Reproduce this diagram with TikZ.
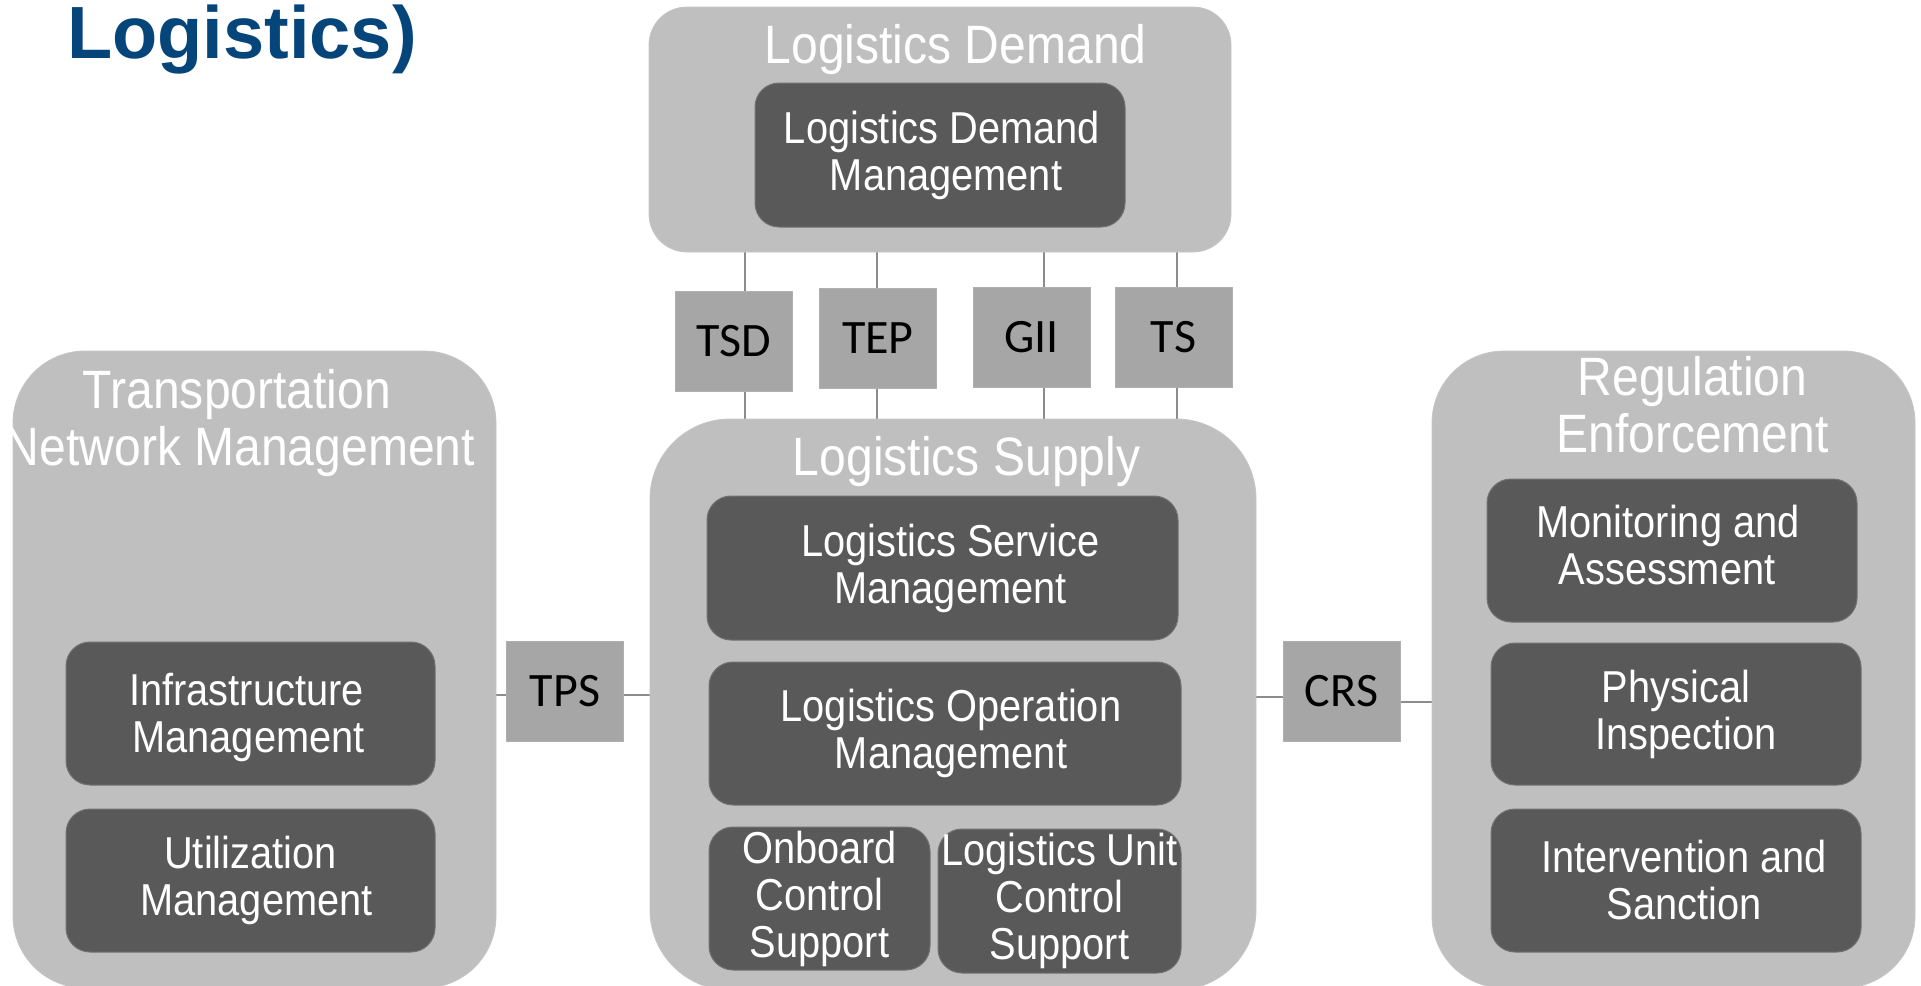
\documentclass[tikz,border=0pt]{standalone}
\usepackage{fontspec}
\setmainfont{Liberation Sans}
\newfontfamily\nsans[FakeStretch=0.89]{Liberation Sans}
\newfontfamily\calib{Carlito}
\usetikzlibrary{backgrounds}
\definecolor{outerfill}{HTML}{BFBFBF}
\definecolor{innerfill}{HTML}{595959}
\definecolor{innerline}{HTML}{727272}
\definecolor{labelfill}{HTML}{A6A6A6}
\definecolor{connline}{HTML}{8C8C8C}
\definecolor{titleblue}{HTML}{05457A}
\tikzset{
  outerbox/.style={rectangle, fill=outerfill, draw=outerfill!90!white, line width=0.8pt, inner sep=0pt, outer sep=0pt},
  innerbox/.style={rectangle, rounded corners=24pt, fill=innerfill, draw=innerline, line width=1pt, inner sep=0pt, outer sep=0pt, text=white, align=center, font=\nsans\fontsize{44.7}{47}\selectfont},
  headtext/.style={inner sep=0pt, outer sep=0pt, text=white, align=center, font=\nsans\fontsize{54}{57}\selectfont},
  labelbox/.style={rectangle, fill=labelfill, draw=labelfill!90!white, line width=0.8pt, inner sep=0pt, outer sep=0pt, minimum width=117pt, minimum height=100pt, text=black, font=\calib\fontsize{48}{50}\selectfont},
  conn/.style={draw=connline, line width=1.2pt}
}
\begin{document}
\begin{tikzpicture}[x=1pt,y=-1pt]
\useasboundingbox (0,0) rectangle (1921,985);
\clip (0,0) rectangle (1921,985);

% title
\node[anchor=base west, inner sep=0pt, text=titleblue, font=\bfseries\fontsize{74}{80}\selectfont] (title) at (67,58) {Logistics)};

% outer boxes
\node[outerbox, rounded corners=38pt, minimum width=582pt, minimum height=245pt] (ldemand) at (940,129.5) {};
\node[outerbox, rounded corners=80pt, minimum width=606pt, minimum height=571pt] (lsupply) at (953,704.5) {};
\node[outerbox, rounded corners=72pt, minimum width=483pt, minimum height=637pt] (tnm) at (254.5,669.5) {};
\node[outerbox, rounded corners=72pt, minimum width=483pt, minimum height=637pt] (reg) at (1673.5,669.5) {};

% headers
\node[headtext, anchor=base] (hdemand) at (955.6,63.7) {Logistics Demand};
\node[headtext, anchor=base] (hsupply) at (966.6,475.3) {Logistics Supply};
\node[headtext, anchor=north] (htnm) at (237,369.5) {Transportation\\\hspace*{6pt}Network Management};
\node[headtext, anchor=north] (hreg) at (1692.5,356) {Regulation\\Enforcement};

% inner boxes
\node[innerbox, minimum width=370pt, minimum height=144pt] (ldm) at (940,155) {\hspace*{4pt}Logistics Demand\\\hspace*{12pt}Management};
\node[innerbox, minimum width=471pt, minimum height=144pt] (lsm) at (942.5,568) {\hspace*{16pt}Logistics Service\\\hspace*{16pt}Management};
\node[innerbox, minimum width=472pt, minimum height=143pt] (lom) at (945,733.5) {\hspace*{12pt}Logistics Operation\\\hspace*{12pt}Management};
\node[innerbox, minimum width=221pt, minimum height=143pt] (ocs) at (819.5,898.5) {Onboard\\Control\\Support};
\node[innerbox, minimum width=243pt, minimum height=144pt] (lucs) at (1059.5,901) {Logistics Unit\\Control\\Support};
\node[innerbox, minimum width=369pt, minimum height=143pt, text depth=2pt] (im) at (250.5,713.5) {\hspace*{-8pt}Infrastructure\\\hspace*{-4pt}Management};
\node[innerbox, minimum width=369pt, minimum height=143pt] (um) at (250.5,880.5) {Utilization\\\hspace*{12pt}Management};
\node[innerbox, minimum width=370pt, minimum height=143pt, text depth=12pt] (ma) at (1672,550.5) {\hspace*{-8pt}Monitoring and\\\hspace*{-10pt}Assessment};
\node[innerbox, minimum width=370pt, minimum height=142pt] (pi) at (1676,714) {Physical\\\hspace*{20pt}Inspection};
\node[innerbox, minimum width=370pt, minimum height=143pt] (is) at (1676,880.5) {\hspace*{16pt}Intervention and\\\hspace*{16pt}Sanction};

% interface boxes
\node[labelbox] (tsd) at (734,341) {TSD};
\node[labelbox] (tep) at (878,338) {TEP};
\node[labelbox] (gii) at (1031.5,337) {GII};
\node[labelbox] (ts) at (1173.5,337) {TS};
\node[labelbox] (tps) at (565,691) {TPS};
\node[labelbox] (crs) at (1341.5,691.5) {CRS};

% connector positions
\coordinate (v1) at (745,0);
\coordinate (v2) at (877,0);
\coordinate (v3) at (1044,0);
\coordinate (v4) at (1177,0);
\coordinate (h1) at (0,695);
\coordinate (h2) at (0,697);
\coordinate (h3) at (0,702);

\begin{scope}[on background layer]
\draw[conn] (ldemand.south -| v1) -- (lsupply.north -| v1);
\draw[conn] (ldemand.south -| v2) -- (lsupply.north -| v2);
\draw[conn] (ldemand.south -| v3) -- (lsupply.north -| v3);
\draw[conn] (ldemand.south -| v4) -- (lsupply.north -| v4);
\draw[conn] (tnm.east |- h1) -- (lsupply.west |- h1);
\draw[conn] (lsupply.east |- h2) -- (crs.west |- h2);
\draw[conn] (crs.east |- h3) -- (reg.west |- h3);
\end{scope}
\end{tikzpicture}
\end{document}
